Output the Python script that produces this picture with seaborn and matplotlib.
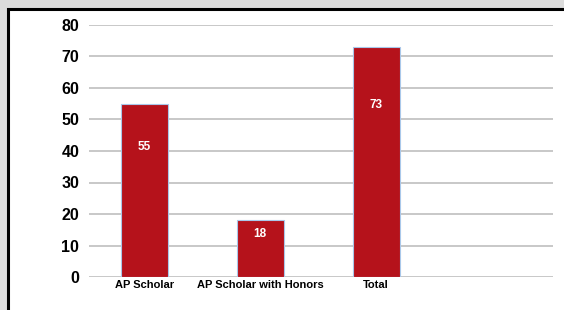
import matplotlib
matplotlib.use("Agg")
import matplotlib.pyplot as plt
import seaborn as sns
import pandas as pd
from matplotlib.patches import Rectangle

categories = ["AP Scholar", "AP Scholar with Honors", "Total"]
counts = [55, 18, 73]
y_ticks = [0, 10, 20, 30, 40, 50, 60, 70, 80]

sns.set_style("white")
plt.rcParams["font.family"] = ["Liberation Sans", "DejaVu Sans"]

df = pd.DataFrame({"category": categories, "count": counts})

W, H = 564, 310
fig = plt.figure(figsize=(W / 100, H / 100), dpi=100)
fig.patch.set_facecolor("#dcdcdc")

# white panel with black frame (runs off right/bottom edge)
fig.patches.append(Rectangle((8 / W, -0.1), 1.2, (H - 9) / H + 0.1, transform=fig.transFigure,
                             facecolor="white", edgecolor="black", linewidth=2.2, zorder=-10))

ax = fig.add_axes([89 / W, (H - 277) / H, (553 - 89) / W, (277 - 25) / H])
ax.set_facecolor("none")

sns.barplot(data=df, x="category", y="count", color="#b5121b", saturation=1,
            width=0.405, edgecolor="#a9c8ea", linewidth=0.8, ax=ax, zorder=3)

ax.set_xlim(-0.475, 3.525)
ax.set_ylim(0, 80)
ax.set_yticks(y_ticks)
ax.set_yticklabels([str(t) for t in y_ticks], fontsize=11.5, fontweight="bold", color="black")
ax.set_xticks(range(len(categories)))
ax.set_xticklabels(categories, fontsize=8, fontweight="bold", color="black")
ax.tick_params(axis="y", length=0, pad=7)
ax.tick_params(axis="x", length=0, pad=2)
ax.yaxis.grid(True, color="#c4c4c4", linewidth=1.3)
ax.set_axisbelow(True)
for s in ax.spines.values():
    s.set_visible(False)
ax.set_xlabel("")
ax.set_ylabel("")

for i, v in enumerate(counts):
    ax.text(i, v * 0.75, str(v), ha="center", va="center", color="white",
            fontsize=8.5, fontweight="bold", zorder=4)

fig.savefig("out.png", dpi=100, facecolor=fig.get_facecolor())
